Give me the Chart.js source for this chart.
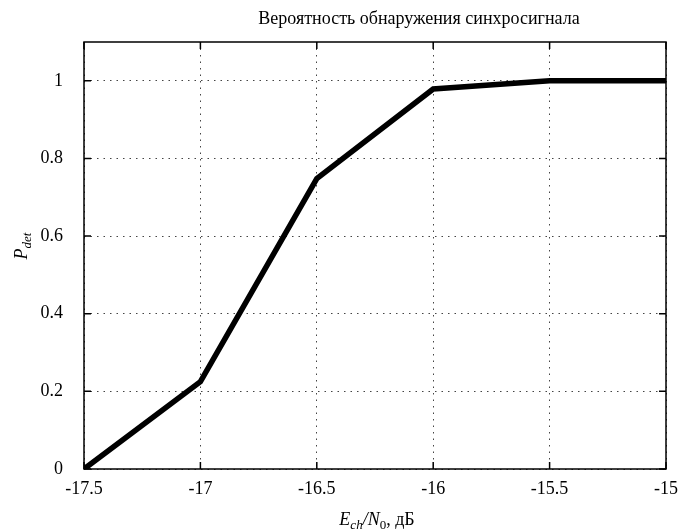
<!DOCTYPE html>
<html>
<head>
<meta charset="utf-8">
<script src="https://cdn.jsdelivr.net/npm/chart.js@4.4.1/dist/chart.umd.min.js"></script>
<style>
  html, body { margin: 0; padding: 0; background: #fff; }
  #wrap { width: 685px; height: 531px; }
</style>
</head>
<body>
<div id="wrap"><canvas id="chart" width="685" height="531"></canvas></div>
<script>
// Data
const snrDb = [-17.5, -17, -16.5, -16, -15.5, -15];
const pDet = [0, 0.225, 0.748, 0.979, 1.0, 1.0];
const xTicks = [-17.5, -17, -16.5, -16, -15.5, -15];
const yTicks = [0, 0.2, 0.4, 0.6, 0.8, 1];
const titleText = "Вероятность обнаружения синхросигнала";

const serif = "'Liberation Serif', 'DejaVu Serif', serif";

// Frame with inward tick marks, title and axis labels with subscripts
const framePlugin = {
  id: "frame",
  afterDatasetsDraw(chart) {
    const ctx = chart.ctx;
    const a = chart.chartArea;
    const xs = chart.scales.x, ys = chart.scales.y;
    const tl = 7;
    ctx.save();
    ctx.strokeStyle = "#000";
    ctx.lineWidth = 1.5;
    ctx.strokeRect(a.left, a.top, a.right - a.left, a.bottom - a.top);
    ctx.beginPath();
    xTicks.forEach(function (v) {
      const px = xs.getPixelForValue(v);
      ctx.moveTo(px, a.bottom); ctx.lineTo(px, a.bottom - tl);
      ctx.moveTo(px, a.top); ctx.lineTo(px, a.top + tl);
    });
    yTicks.forEach(function (v) {
      const py = ys.getPixelForValue(v);
      ctx.moveTo(a.left, py); ctx.lineTo(a.left + tl, py);
      ctx.moveTo(a.right, py); ctx.lineTo(a.right - tl, py);
    });
    ctx.stroke();
    ctx.restore();
  },
  afterDraw(chart) {
    const ctx = chart.ctx;
    ctx.save();
    ctx.fillStyle = "#000";
    ctx.textBaseline = "alphabetic";

    // title
    ctx.font = "18px " + serif;
    ctx.textAlign = "center";
    ctx.fillText(titleText, 419, 24);

    // draws a run of [text, font, shift] pieces starting at x
    function runs(parts, x, y) {
      let cx = x;
      parts.forEach(function (p) {
        ctx.font = p[1];
        ctx.fillText(p[0], cx, y + (p[2] || 0));
        cx += ctx.measureText(p[0]).width;
      });
    }
    function width(parts) {
      let w = 0;
      parts.forEach(function (p) { ctx.font = p[1]; w += ctx.measureText(p[0]).width; });
      return w;
    }

    ctx.textAlign = "left";
    const xLabel = [
      ["E", "italic 18px " + serif],
      ["ch", "italic 13px " + serif, 4],
      ["/N", "italic 18px " + serif],
      ["0", "13px " + serif, 4],
      [", дБ", "18px " + serif]
    ];
    const xw = width(xLabel);
    runs(xLabel, 377 - xw / 2, 525);

    const yLabel = [
      ["P", "italic 18px " + serif],
      ["det", "italic 13px " + serif, 4]
    ];
    const yw = width(yLabel);
    ctx.translate(27, 246);
    ctx.rotate(-Math.PI / 2);
    runs(yLabel, -yw / 2, 0);
    ctx.restore();
  }
};

function fmt(v) { return String(Math.round(v * 10) / 10); }

new Chart(document.getElementById("chart"), {
  type: "line",
  data: {
    datasets: [{
      data: snrDb.map(function (x, i) { return { x: x, y: pDet[i] }; }),
      borderColor: "#000",
      borderWidth: 5.5,
      pointRadius: 0,
      fill: false,
      tension: 0
    }]
  },
  options: {
    responsive: false,
    animation: false,
    layout: { padding: { left: 0, top: 42, right: 19, bottom: 0 } },
    plugins: { legend: { display: false }, tooltip: { enabled: false }, title: { display: false } },
    scales: {
      x: {
        type: "linear",
        min: -17.5,
        max: -15,
        afterBuildTicks: function (s) { s.ticks = xTicks.map(function (v) { return { value: v }; }); },
        afterFit: function (s) { s.height = 62; s.paddingLeft = 0; s.paddingRight = 0; },
        grid: { color: "#444", lineWidth: 1, drawTicks: false },
        border: { display: false, dash: [1.5, 5] },
        ticks: { color: "#000", font: { family: serif, size: 18 }, padding: 9, maxRotation: 0, callback: fmt }
      },
      y: {
        min: 0,
        max: 1.1,
        afterBuildTicks: function (s) { s.ticks = yTicks.map(function (v) { return { value: v }; }); },
        afterFit: function (s) { s.width = 84; },
        grid: { color: "#444", lineWidth: 1, drawTicks: false },
        border: { display: false, dash: [1.5, 5] },
        ticks: { color: "#000", font: { family: serif, size: 18 }, padding: 21, callback: fmt }
      }
    }
  },
  plugins: [framePlugin]
});
</script>
</body>
</html>
